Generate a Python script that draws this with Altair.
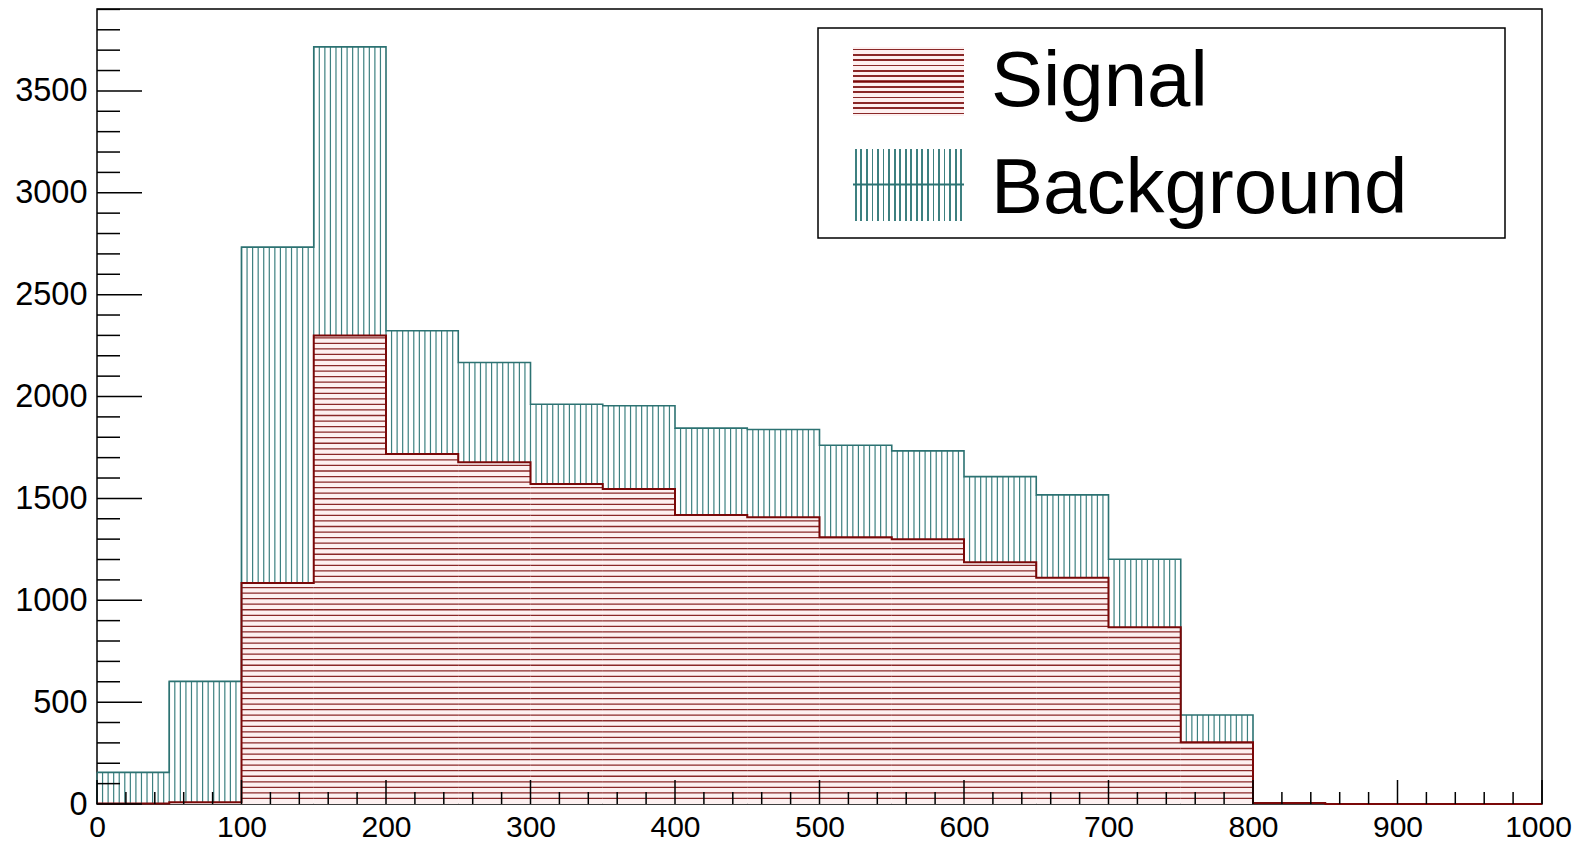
import altair as alt
import pandas as pd

# ---------------- data ----------------
BIN_W = 50
bin_low = [0, 50, 100, 150, 200, 250, 300, 350, 400, 450,
           500, 550, 600, 650, 700, 750, 800, 850, 900, 950]
signal = [3, 8, 1085, 2299, 1718, 1677, 1571, 1546, 1419, 1407,
          1309, 1299, 1186, 1111, 867, 303, 5, 0, 0, 0]
background = [152, 594, 1648, 1417, 605, 490, 391, 409, 426, 431,
              452, 434, 421, 406, 334, 134, 0, 0, 0, 0]
legend_labels = ["Signal", "Background"]
x_major = list(range(0, 1001, 100))
x_minor = [v for v in range(20, 1000, 20) if v % 100]
y_major = list(range(0, 3501, 500))
y_minor = [v for v in range(100, 3901, 100) if v % 500]

X_MAX = 1000
Y_MAX = 3902
W, H = 1445, 795

SIG_LINE = "#7a0808"
SIG_HATCH = "#8a2828"
SIG_FILL = "#fdf0f0"
BKG_LINE = "#2c7272"
BKG_HATCH = "#3d8080"
FONT = "Liberation Sans"

total = [s + b for s, b in zip(signal, background)]
bins = pd.DataFrame({"lo": bin_low,
                     "hi": [l + BIN_W for l in bin_low],
                     "sig": signal, "tot": total})

# hatch positions (style: ~5.5 px spacing)
n_v = 13
vx_step = BIN_W / n_v
v_rows = []
for lo, s, t in zip(bin_low, signal, total):
    if t > s:
        for j in range(n_v):
            v_rows.append({"x": lo + j * vx_step, "y": s, "y2": t})
hatch_v = pd.DataFrame(v_rows)

hy_step = 5.55 * Y_MAX / H
h_rows = []
k = 1
while k * hy_step < max(signal):
    lev = k * hy_step
    for lo, s in zip(bin_low, signal):
        if s > lev:
            h_rows.append({"x": lo, "x2": lo + BIN_W, "y": lev})
    k += 1
hatch_h = pd.DataFrame(h_rows)

edges = bin_low + [X_MAX]
steps = pd.DataFrame({"x": edges,
                      "sig": signal + [signal[-1]],
                      "tot": total + [total[-1]]})

xs = alt.Scale(domain=[0, X_MAX], nice=False, zero=False)
ys = alt.Scale(domain=[0, Y_MAX], nice=False, zero=False)

x_axis = alt.Axis(values=x_major, ticks=False, domain=False, grid=False,
                  format="d",
                  labelFontSize=30, labelFont=FONT, labelColor="black",
                  labelPadding=8, labelFlush=False, labelOverlap=False,
                  labelOffset={"condition": {"test": "datum.value == 1000", "value": -4},
                               "value": 0},
                  title=None)
y_axis = alt.Axis(values=y_major, ticks=False, domain=False, grid=False,
                  format="d",
                  labelFontSize=32.5, labelFont=FONT, labelColor="black",
                  labelPadding=10, labelFlush=False, labelOverlap=False,
                  title=None)

def X(f):
    return alt.X(f, scale=xs, axis=x_axis, title=None)

def Y(f):
    return alt.Y(f, scale=ys, axis=y_axis, title=None)

sig_fill = alt.Chart(bins).mark_rect(fill=SIG_FILL).encode(
    x=X("lo:Q"), x2="hi:Q", y=Y("sig:Q"), y2=alt.datum(0))

bkg_hatch = alt.Chart(hatch_v).mark_rule(color=BKG_HATCH, strokeWidth=1.2).encode(
    x=X("x:Q"), y=Y("y:Q"), y2="y2:Q")

sig_hatch = alt.Chart(hatch_h).mark_rule(color=SIG_HATCH, strokeWidth=1.3).encode(
    x=X("x:Q"), x2="x2:Q", y=Y("y:Q"))

tot_line = alt.Chart(steps).mark_line(color=BKG_LINE, strokeWidth=1.6,
                                      interpolate="step-after").encode(
    x=X("x:Q"), y=Y("tot:Q"))

sig_line = alt.Chart(steps).mark_line(color=SIG_LINE, strokeWidth=2,
                                      interpolate="step-after").encode(
    x=X("x:Q"), y=Y("sig:Q"))

def yticks(vals, length):
    return alt.Chart(pd.DataFrame({"v": vals})).mark_rule(
        color="black", strokeWidth=1.5).encode(
        y=Y("v:Q"), x=alt.value(0), x2=alt.value(length))

def xticks(vals, length):
    return alt.Chart(pd.DataFrame({"v": vals})).mark_rule(
        color="black", strokeWidth=1.5).encode(
        x=X("v:Q"), y=alt.value(H), y2=alt.value(H - length))

# ---------------- legend ----------------
def stripes(color, bg, n, frac, vertical):
    stops = [alt.GradientStop(offset=0, color=bg)]
    for k in range(n):
        c = (k + 0.5) / n
        a, b = c - frac / 2, c + frac / 2
        stops += [alt.GradientStop(offset=a, color=bg),
                  alt.GradientStop(offset=a, color=color),
                  alt.GradientStop(offset=b, color=color),
                  alt.GradientStop(offset=b, color=bg)]
    stops.append(alt.GradientStop(offset=1, color=bg))
    if vertical:
        return alt.LinearGradient(gradient="linear", stops=stops,
                                  x1=0, x2=1, y1=0, y2=0)
    return alt.LinearGradient(gradient="linear", stops=stops,
                              x1=0, x2=0, y1=0, y2=1)

one = pd.DataFrame({"k": [0]})
leg_box = alt.Chart(one).mark_rect(fill="white", stroke="black", strokeWidth=1.5).encode(
    x=alt.value(721), x2=alt.value(1408), y=alt.value(19), y2=alt.value(229))

sig_sym = alt.Chart(one).mark_rect(
    fill=stripes(SIG_HATCH, SIG_FILL, 13, 0.024, False)).encode(
    x=alt.value(756), x2=alt.value(867), y=alt.value(38), y2=alt.value(107))
sig_sym_line = alt.Chart(one).mark_rule(color=SIG_LINE, strokeWidth=2.5).encode(
    x=alt.value(756), x2=alt.value(867), y=alt.value(72.5))

bkg_sym = alt.Chart(one).mark_rect(
    fill=stripes(BKG_HATCH, "white", 20, 0.016, True)).encode(
    x=alt.value(756), x2=alt.value(867), y=alt.value(140), y2=alt.value(212))
bkg_sym_line = alt.Chart(one).mark_rule(color=BKG_LINE, strokeWidth=2).encode(
    x=alt.value(756), x2=alt.value(867), y=alt.value(175.5))

leg_text = alt.Chart(pd.DataFrame({"label": legend_labels, "ypos": [97, 204]})).mark_text(
    font=FONT, fontSize=78, color="black", align="left", baseline="alphabetic").encode(
    text="label:N", x=alt.value(894), y=alt.Y("ypos:Q", scale=None, axis=None))

chart = alt.layer(
    sig_fill, bkg_hatch, sig_hatch, tot_line, sig_line,
    yticks(y_major, 45), yticks(y_minor, 23),
    xticks(x_major, 24), xticks(x_minor, 12),
    leg_box, sig_sym, sig_sym_line, bkg_sym, bkg_sym_line, leg_text
).properties(
    width=W, height=H,
    background="white",
    autosize=alt.AutoSizeParams(type="none"),
    padding={"left": 89, "top": 1, "right": 32, "bottom": 40},
).configure_view(
    stroke="black", strokeWidth=1.5
)

chart.save("out.html", embed_options={"renderer": "svg", "actions": False})
